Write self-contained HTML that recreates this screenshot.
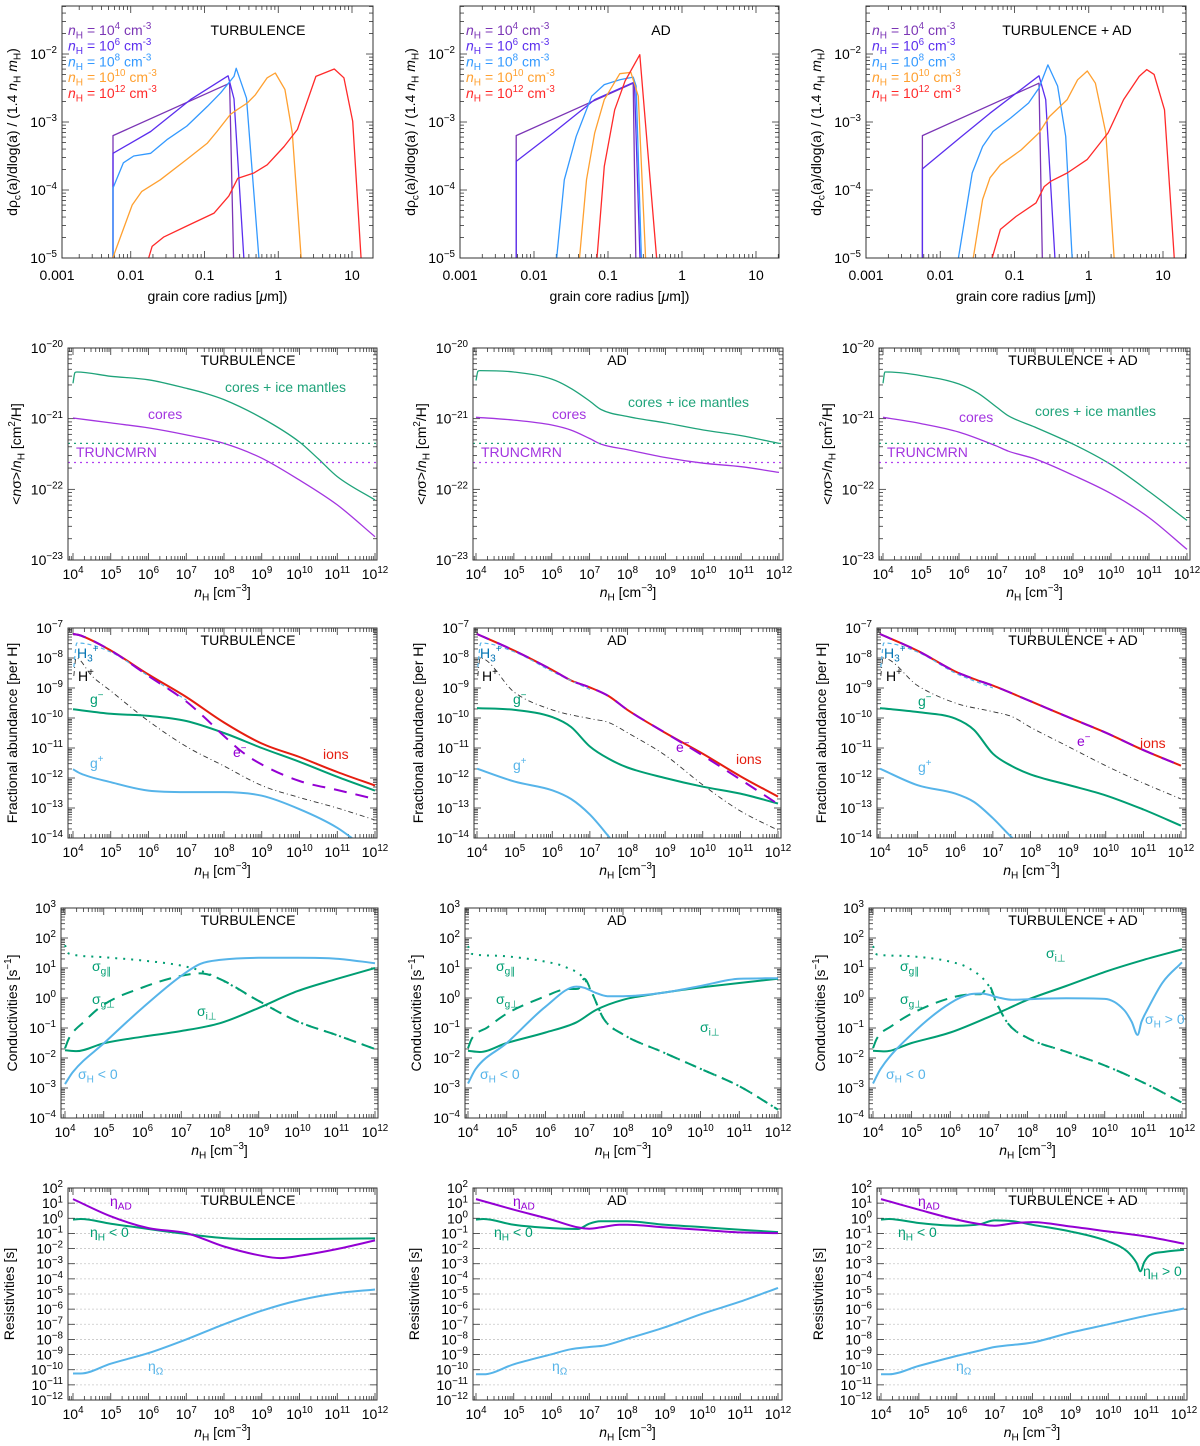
<!DOCTYPE html>
<html><head><meta charset="utf-8">
<style>
html,body{margin:0;padding:0;background:#fff;}
svg{display:block;font-family:"Liberation Sans",Arial,sans-serif;}
</style></head>
<body>
<svg id="fig" width="1200" height="1446" viewBox="0 0 1200 1446"></svg>
<script>
// ---------- Row 1: grain size distributions (log10 a [um], log10 value) ----------
const sdTurb_n4 = [[-2.24,-5.3],[-2.24,-3.20],[-0.66,-2.43],[-0.60,-5.3]];
const sdTurb_n6 = [[-2.24,-5.3],[-2.24,-3.46],[-1.73,-3.14],[-1.19,-2.67],[-0.68,-2.32],[-0.60,-2.66],[-0.45,-5.3]];
const sdTurb_n8 = [[-2.24,-5.3],[-2.24,-3.97],[-2.10,-3.60],[-1.96,-3.50],[-1.73,-3.46],[-1.51,-3.26],[-1.24,-3.06],[-0.96,-2.77],[-0.78,-2.57],[-0.60,-2.33],[-0.57,-2.21],[-0.43,-2.65],[-0.24,-5.3]];
const sdTurb_n10 = [[-2.24,-5.3],[-2.24,-4.99],[-1.98,-4.22],[-1.85,-4.02],[-1.60,-3.85],[-1.24,-3.55],[-0.96,-3.31],[-0.83,-3.14],[-0.65,-2.89],[-0.56,-2.82],[-0.42,-2.72],[-0.31,-2.60],[-0.15,-2.35],[-0.04,-2.28],[0.09,-2.52],[0.19,-3.16],[0.33,-5.3]];
const sdTurb_n12 = [[-1.84,-5.3],[-1.71,-4.83],[-1.55,-4.69],[-1.24,-4.53],[-0.87,-4.34],[-0.67,-4.09],[-0.55,-3.83],[-0.33,-3.75],[-0.15,-3.63],[0.08,-3.36],[0.26,-3.11],[0.51,-2.33],[0.76,-2.22],[0.89,-2.35],[1.01,-2.99],[1.14,-5.3]];
const sdAD_n4 = [[-2.24,-5.3],[-2.24,-3.20],[-0.66,-2.43],[-0.62,-5.3]];
const sdAD_n6 = [[-2.24,-5.3],[-2.24,-3.58],[-1.74,-3.16],[-1.18,-2.67],[-0.66,-2.42],[-0.64,-2.5],[-0.56,-5.3]];
const sdAD_n8 = [[-1.72,-5.3],[-1.59,-3.85],[-1.43,-3.21],[-1.22,-2.62],[-1.05,-2.45],[-0.84,-2.38],[-0.66,-2.34],[-0.62,-2.47],[-0.54,-5.3]];
const sdAD_n10 = [[-1.41,-5.3],[-1.29,-3.85],[-1.18,-3.16],[-1.05,-2.67],[-0.84,-2.29],[-0.69,-2.27],[-0.59,-2.62],[-0.48,-5.3]];
const sdAD_n12 = [[-1.17,-5.3],[-1.05,-3.65],[-0.91,-2.82],[-0.77,-2.40],[-0.57,-2.01],[-0.32,-5.3]];
const sdTA_n4 = [[-2.24,-5.3],[-2.24,-3.20],[-0.67,-2.43],[-0.62,-5.3]];
const sdTA_n6 = [[-2.24,-5.3],[-2.24,-3.69],[-1.71,-3.21],[-1.33,-2.87],[-0.67,-2.32],[-0.58,-2.67],[-0.44,-5.3]];
const sdTA_n8 = [[-1.80,-5.3],[-1.57,-3.75],[-1.43,-3.36],[-1.29,-3.14],[-1.05,-2.94],[-0.81,-2.72],[-0.67,-2.50],[-0.55,-2.16],[-0.42,-2.47],[-0.31,-3.21],[-0.21,-5.3]];
const sdTA_n10 = [[-1.60,-5.3],[-1.43,-4.14],[-1.33,-3.82],[-1.19,-3.63],[-0.91,-3.41],[-0.67,-3.16],[-0.53,-2.92],[-0.29,-2.67],[-0.15,-2.38],[-0.02,-2.25],[0.09,-2.43],[0.23,-3.16],[0.36,-5.3]];
const sdTA_n12 = [[-1.38,-5.3],[-1.19,-4.58],[-0.98,-4.39],[-0.71,-4.19],[-0.60,-3.95],[-0.51,-3.87],[-0.29,-3.75],[-0.02,-3.55],[0.26,-3.16],[0.47,-2.67],[0.68,-2.33],[0.78,-2.23],[0.88,-2.30],[1.02,-2.82],[1.17,-5.3]];
const sdLegend = ["4","6","8","10","12"];

// ---------- Row 2: mean cross sections ----------
const csTurbIce = [[4.0,-20.50],[4.05,-20.35],[4.1,-20.34],[5,-20.40],[6,-20.45],[7,-20.57],[7.5,-20.64],[8,-20.73],[9,-20.99],[10,-21.33],[10.5,-21.57],[11,-21.82],[12,-22.15]];
const csTurbCore = [[4,-20.99],[5,-21.06],[6,-21.13],[7,-21.23],[8,-21.35],[9,-21.56],[10,-21.87],[11,-22.22],[12,-22.67]];
const csADIce = [[4.0,-20.46],[4.05,-20.33],[4.1,-20.32],[5,-20.34],[6,-20.44],[6.5,-20.57],[7,-20.75],[7.3,-20.87],[8,-20.97],[9,-21.06],[10,-21.16],[11,-21.24],[12,-21.35]];
const csADCore = [[4,-20.98],[5,-21.02],[6,-21.09],[6.5,-21.16],[7,-21.28],[7.3,-21.36],[8,-21.44],[9,-21.55],[10,-21.63],[11,-21.68],[12,-21.76]];
const csTAIce = [[4.0,-20.50],[4.05,-20.34],[4.1,-20.34],[5,-20.39],[6,-20.51],[6.5,-20.64],[7,-20.84],[7.3,-20.96],[8,-21.12],[9,-21.36],[10,-21.65],[11,-22.03],[12,-22.44]];
const csTACore = [[4,-20.98],[5,-21.07],[6,-21.19],[7,-21.39],[7.3,-21.46],[8,-21.57],[9,-21.80],[10,-22.06],[11,-22.40],[12,-22.85]];
const csTruncIce = -21.35;
const csTruncCore = -21.62;

// ---------- Row 3: fractional abundances ----------
const abTurbIons = [[4,-7.2],[4.2,-7.25],[5,-7.75],[6,-8.55],[7,-9.3],[8,-10.15],[9,-10.85],[10,-11.3],[11,-11.8],[12,-12.25]];
const abTurbE = [[4,-7.2],[4.2,-7.25],[5,-7.75],[6,-8.6],[7,-9.45],[7.5,-10.0],[8,-10.6],[8.5,-11.15],[9,-11.55],[10,-12.1],[11,-12.4],[12,-12.7]];
const abTurbH3 = [[4.02,-8.3],[4.1,-7.5],[5,-7.8],[6,-8.6],[7,-9.4]];
const abTurbHp = [[4.02,-8.6],[4.08,-8.0],[4.5,-8.6],[5,-9.1],[6,-10.1],[7,-10.95],[8,-11.6],[9,-12.25],[10,-12.65],[11,-13.0],[12,-13.4]];
const abTurbGm = [[4,-9.71],[5,-9.86],[6,-9.93],[7,-10.1],[8,-10.5],[9,-11.0],[10,-11.46],[11,-11.96],[12,-12.42]];
const abTurbGp = [[4,-11.71],[4.2,-11.85],[5,-12.14],[6,-12.42],[7,-12.47],[8,-12.47],[9,-12.59],[10,-13.04],[11,-13.66],[11.6,-14.2]];
const abADIons = [[4,-7.2],[5,-7.76],[6,-8.4],[6.5,-8.75],[7,-8.98],[7.5,-9.27],[8,-9.73],[9,-10.49],[10,-11.19],[11,-11.94],[12,-12.62]];
const abADE = [[4,-7.2],[5,-7.76],[6,-8.4],[6.5,-8.75],[7,-8.98],[7.5,-9.27],[8,-9.73],[9,-10.49],[10,-11.25],[11,-12.05],[12,-12.87]];
const abADH3 = [[4.02,-8.3],[4.1,-7.5],[5,-7.8],[6,-8.45],[7,-9.05]];
const abADHp = [[4.02,-8.6],[4.08,-8.0],[5,-9.15],[6,-9.73],[7,-10.02],[7.5,-10.15],[8,-10.49],[9,-11.24],[10,-12.23],[11,-13.1],[12,-13.74]];
const abADGm = [[4,-9.67],[5,-9.73],[6,-9.97],[6.5,-10.3],[7,-10.95],[7.5,-11.36],[8,-11.65],[9,-12.0],[10,-12.29],[11,-12.52],[12,-12.85]];
const abADGp = [[4,-11.69],[5,-12.12],[6,-12.41],[6.5,-12.7],[7,-13.22],[7.6,-14.1]];
const abTAIons = [[4,-7.2],[5,-7.76],[6,-8.45],[6.5,-8.7],[7,-8.92],[8,-9.44],[9,-9.97],[10,-10.49],[11,-11.07],[12,-11.59]];
const abTAE = [[4,-7.2],[5,-7.76],[6,-8.45],[6.5,-8.7],[7,-8.92],[8,-9.44],[9,-9.97],[10,-10.49],[11,-11.07],[12,-11.59]];
const abTAH3 = [[4.02,-8.3],[4.1,-7.5],[5,-7.8],[6,-8.5],[7,-9.0]];
const abTAHp = [[4.02,-8.6],[4.08,-8.0],[5,-8.92],[6,-9.5],[7,-9.79],[7.5,-9.95],[8,-10.31],[9,-10.95],[10,-11.59],[11,-12.17],[12,-12.7]];
const abTAGm = [[4,-9.67],[5,-9.8],[6,-10.02],[6.5,-10.4],[7,-11.19],[7.5,-11.6],[8,-11.88],[9,-12.23],[10,-12.58],[11,-13.05],[12,-13.59]];
const abTAGp = [[4,-11.69],[5,-12.24],[6,-12.52],[6.5,-12.8],[7,-13.34],[7.5,-13.98],[7.6,-14.1]];

// ---------- Row 4: conductivities ----------
const cdTurbGpar = [[4,1.76],[4.1,1.48],[5,1.36],[6,1.25],[7,1.08],[7.5,0.91],[8,0.63],[9,-0.1],[10,-0.78],[11,-1.23],[12,-1.7]];
const cdTurbGperp = [[4,-1.68],[4.1,-1.35],[4.5,-0.78],[5,-0.22],[6,0.35],[7,0.74],[7.5,0.82],[8,0.63],[9,-0.1],[10,-0.78],[11,-1.23],[12,-1.7]];
const cdTurbIperp = [[4,-1.74],[4.3,-1.77],[5,-1.51],[6,-1.29],[7,-1.1],[8,-0.84],[9,-0.33],[10,0.23],[11,0.63],[12,1.0]];
const cdTurbH = [[4,-2.87],[4.2,-2.47],[5,-1.51],[6,-0.33],[7,0.74],[7.5,1.14],[8,1.27],[9,1.34],[10,1.34],[11,1.31],[12,1.16]];
const cdADGpar = [[4,1.73],[4.1,1.47],[5,1.39],[6,1.21],[6.5,1.04],[7,0.64],[7.2,0.17],[7.5,-0.69],[8,-1.21],[9,-1.79],[10,-2.36],[11,-2.94],[12,-3.72]];
const cdADGperp = [[4,-1.67],[4.1,-1.35],[4.5,-0.98],[5,-0.52],[6,0.06],[6.5,0.29],[6.85,0.31],[7,0.64],[7.2,0.17],[7.5,-0.69],[8,-1.21],[9,-1.79],[10,-2.36],[11,-2.94],[12,-3.72]];
const cdADIperp = [[4,-1.76],[4.3,-1.8],[5,-1.5],[6,-1.15],[6.8,-0.81],[7.3,-0.4],[8,-0.06],[9,0.17],[10,0.35],[11,0.5],[12,0.64]];
const cdADH = [[4,-2.85],[4.2,-2.36],[5,-1.5],[6,-0.29],[6.8,0.38],[7.0,0.34],[7.3,0.17],[7.6,0.06],[8,0.06],[9,0.17],[10,0.4],[11,0.64],[12,0.66]];
const cdTAGpar = [[4,1.73],[4.1,1.45],[5,1.39],[6,1.21],[6.5,0.98],[7,0.4],[7.2,-0.17],[7.5,-0.86],[8,-1.33],[9,-1.79],[10,-2.25],[11,-2.82],[12,-3.49]];
const cdTAGperp = [[4,-1.67],[4.1,-1.35],[4.5,-0.92],[5,-0.52],[6,0.0],[6.5,0.12],[6.8,0.13],[7,0.4],[7.2,-0.17],[7.5,-0.86],[8,-1.33],[9,-1.79],[10,-2.25],[11,-2.82],[12,-3.49]];
const cdTAIperp = [[4,-1.76],[4.3,-1.78],[5,-1.5],[6,-1.15],[7,-0.63],[7.5,-0.35],[8,-0.06],[9,0.4],[10,0.87],[11,1.27],[12,1.62]];
const cdTAH = [[4,-2.85],[4.2,-2.36],[5,-1.21],[6,-0.17],[6.5,0.12],[6.8,0.15],[7.3,0.0],[7.6,-0.06],[8,-0.04],[9,-0.01],[10,-0.03],[10.5,-0.4],[10.7,-0.8],[10.85,-1.23],[10.95,-0.8],[11.1,-0.4],[11.5,0.52],[12,1.19]];

// ---------- Row 5: resistivities ----------
const rsTurbAD = [[4,1.27],[5,0.13],[6,-0.65],[7,-0.98],[8,-1.86],[9,-2.48],[9.5,-2.63],[10,-2.48],[11,-2.03],[12,-1.46]];
const rsTurbH = [[4,-0.09],[4.2,-0.05],[5,-0.36],[6,-0.71],[7,-1.04],[8,-1.31],[9,-1.37],[10,-1.37],[11,-1.35],[12,-1.33]];
const rsTurbO = [[4,-10.25],[4.2,-10.25],[5,-9.6],[6,-8.9],[7,-8.0],[8,-7.0],[9,-6.1],[10,-5.4],[11,-4.95],[12,-4.7]];
const rsADAD = [[4,1.27],[5,0.57],[6,-0.09],[6.7,-0.6],[7,-0.69],[7.3,-0.6],[7.8,-0.43],[8,-0.43],[9,-0.6],[10,-0.77],[11,-0.93],[12,-0.98]];
const rsADH = [[4,-0.09],[4.2,-0.05],[5,-0.43],[6,-0.65],[6.7,-0.71],[7,-0.36],[7.3,-0.2],[8,-0.2],[9,-0.43],[10,-0.58],[11,-0.76],[12,-0.91]];
const rsADO = [[4,-10.3],[4.2,-10.3],[5,-9.64],[6,-8.98],[6.5,-8.65],[7,-8.5],[7.4,-8.4],[8,-7.96],[9,-7.2],[10,-6.3],[11,-5.5],[12,-4.6]];
const rsTAAD = [[4,1.27],[5,0.57],[6,-0.09],[6.7,-0.42],[7,-0.49],[7.5,-0.33],[8,-0.25],[9,-0.54],[10,-0.87],[11,-1.2],[12,-1.68]];
const rsTAH = [[4,-0.09],[4.2,-0.05],[5,-0.31],[6,-0.49],[6.6,-0.4],[7,-0.14],[7.5,-0.2],[8,-0.43],[9,-0.87],[10,-1.53],[10.5,-2.19],[10.75,-2.96],[10.85,-3.5],[10.95,-2.9],[11.1,-2.43],[11.5,-2.21],[12,-2.08]];
const rsTAO = [[4,-10.3],[4.2,-10.3],[5,-9.75],[6,-9.09],[6.5,-8.8],[7,-8.5],[8,-8.2],[9,-7.55],[10,-7.0],[11,-6.44],[12,-5.96]];

const xTickLabels = ["4","5","6","7","8","9","10","11","12"];
const r1TickLabels = ["0.001","0.01","0.1","1","10"];

// ---------- drawing ----------
const svg = document.getElementById('fig');
const SVGNS = svg.namespaceURI;
function mk(tag, attrs, parent){ const e=document.createElementNS(SVGNS,tag); for(const k in attrs) e.setAttribute(k,attrs[k]); (parent||svg).appendChild(e); return e; }
function rich(parent, x, y, parts, size, color, anchor, rot){
  const t = mk('text',{x:x,y:y,'font-size':size,fill:color||'#000','text-anchor':anchor||'start'},parent);
  if(rot) t.setAttribute('transform','rotate(-90 '+x+' '+y+')');
  let shift=0;
  parts.forEach(p=>{
    const s=mk('tspan',{},t);
    let target=0;
    if(p[1]==='sup'){target=-size*0.42; s.setAttribute('font-size',size*0.7);}
    else if(p[1]==='sub'){target=size*0.25; s.setAttribute('font-size',size*0.72);}
    else if(p[1]==='it'){s.setAttribute('font-style','italic');}
    s.setAttribute('dy',target-shift); shift=target;
    s.textContent=p[0];
  });
  return t;
}
function monoPath(pts){
  const n=pts.length;
  let d='M'+pts[0][0].toFixed(1)+','+pts[0][1].toFixed(1);
  if(n<3){ for(let i=1;i<n;i++) d+=' L'+pts[i][0].toFixed(1)+','+pts[i][1].toFixed(1); return d; }
  const m=[], t=[];
  for(let i=0;i<n-1;i++){ const dx=pts[i+1][0]-pts[i][0]; m.push(dx===0?0:(pts[i+1][1]-pts[i][1])/dx); }
  t[0]=m[0]; t[n-1]=m[n-2];
  for(let i=1;i<n-1;i++){
    if(m[i-1]*m[i]<=0) t[i]=0;
    else { const a=(m[i-1]+m[i])/2; const lim=3*Math.min(Math.abs(m[i-1]),Math.abs(m[i])); t[i]=Math.sign(a)*Math.min(Math.abs(a),lim); }
  }
  for(let i=0;i<n-1;i++){
    const dx=(pts[i+1][0]-pts[i][0])/3;
    d+=' C'+(pts[i][0]+dx).toFixed(1)+','+(pts[i][1]+t[i]*dx).toFixed(1)+' '+(pts[i+1][0]-dx).toFixed(1)+','+(pts[i+1][1]-t[i+1]*dx).toFixed(1)+' '+pts[i+1][0].toFixed(1)+','+pts[i+1][1].toFixed(1);
  }
  return d;
}
let clipN=0;
function panel(c){
  const g=mk('g',{});
  
  
  const sx=v=>c.px0+(v-c.lx0)*(c.px1-c.px0)/(c.lx1-c.lx0);
  const sy=v=>c.B-(v-c.ylo)*(c.B-c.T)/(c.yhi-c.ylo);
  if(c.grid){
    for(let d=Math.ceil(c.ylo)+1; d<c.yhi; d++){
      const gl=mk('line',{x1:c.L,x2:c.R,y1:sy(d),y2:sy(d),stroke:'#c8c8c8','stroke-width':0.8,'stroke-dasharray':'2,2'},g);
      
      
    }
  }
  const tk=mk('g',{stroke:'#333','stroke-width':0.8},g);
  
  
  const xlo=c.lx0+(c.L-c.px0)*(c.lx1-c.lx0)/(c.px1-c.px0), xhi=c.lx0+(c.R-c.px0)*(c.lx1-c.lx0)/(c.px1-c.px0);
  for(let d=Math.floor(xlo); d<=xhi; d++){
    for(let m=1;m<10;m++){
      const v=d+Math.log10(m); if(v<xlo-0.001||v>xhi+0.001) continue;
      const X=sx(v), len=m===1?7:4;
      mk('line',{x1:X,x2:X,y1:c.B,y2:c.B-len},tk); mk('line',{x1:X,x2:X,y1:c.T,y2:c.T+len},tk);
    }
  }
  for(let d=Math.floor(c.ylo); d<=c.yhi; d++){
    for(let m=1;m<10;m++){
      if(c.noYMinor && m>1) continue;
      const v=d+Math.log10(m); if(v<c.ylo-0.001||v>c.yhi+0.001) continue;
      const Y=sy(v), len=m===1?7:4;
      mk('line',{x1:c.L,x2:c.L+len,y1:Y,y2:Y},tk); mk('line',{x1:c.R,x2:c.R-len,y1:Y,y2:Y},tk);
    }
  }
  const id='clip'+(clipN++);
  const cp=mk('clipPath',{id:id},g); mk('rect',{x:c.L,y:c.T,width:c.R-c.L,height:c.B-c.T},cp);
  const sg=mk('g',{'clip-path':'url(#'+id+')'},g);
  c.series.forEach(s=>{
    const pts=s.data.map(p=>[sx(p[0]),sy(p[1])]);
    const d=s.poly? 'M'+pts.map(p=>p[0].toFixed(1)+','+p[1].toFixed(1)).join(' L') : monoPath(pts);
    const p=mk('path',{d:d,fill:'none',stroke:s.color,'stroke-width':s.w||2,'stroke-linejoin':'round'},sg);
    if(s.dash) p.setAttribute('stroke-dasharray',s.dash);
    
    
  });
  (c.hlines||[]).forEach(h=>{
    const l=mk('line',{x1:c.L,x2:c.R,y1:sy(h.v),y2:sy(h.v),stroke:h.color,'stroke-width':1.3,'stroke-dasharray':'2,4'},sg);
    
    
  });
  const fr=mk('rect',{x:c.L,y:c.T,width:c.R-c.L,height:c.B-c.T,fill:'none',stroke:'#333','stroke-width':1},g);
  
  
  c.xlabels.forEach((lab,i)=>{
    const v=c.xlabVals[i];
    let t;
    if(c.r1) t=rich(g,sx(v),c.B+22,[[lab,'']],14,'#000','middle');
    else t=rich(g,sx(v),c.B+19,[['10',''],[lab,'sup']],14,'#000','middle');
    
    
  });
  for(let d=Math.ceil(c.ylo-0.001); d<=Math.floor(c.yhi+0.001); d++){
    const t=rich(g,c.L-5,sy(d)+5,[['10',''],[String(d).replace('-','\u2212'),'sup']],14,'#000','end');
    
    
  }
  const tt=rich(g,c.titleX,c.T+(c.r1?29:17),[[c.title,'']],14,'#000','middle');
  
  
  const yt=rich(g,c.ytX,(c.T+c.B)/2,c.ytitle,14,'#000','middle',true);
  
  
  const xt=rich(g,(c.L+c.R)/2,c.B+(c.r1?43:37),c.xtitle,14,'#000','middle');
  
  
  (c.labels||[]).forEach(l=>{
    const t=rich(g,l.x,l.y,l.parts,l.size||14,l.color,'start');
    
    
  });
}

const titles=['TURBULENCE','AD','TURBULENCE + AD'];
const nHtitle=[['n','it'],['H','sub'],[' [cm',''],['\u22123','sup'],[']','']];
const xv=[4,5,6,7,8,9,10,11,12];
const C1=['#7B35B5','#5B2EEE','#3399FF','#FFA030','#FF2A2A'];

// Row 1
const r1cols=[{L:62,R:373,px0:57,px1:352},{L:460,R:779,px0:460,px1:756},{L:866,R:1186,px0:866,px1:1163}];
const r1data=[[sdTurb_n4,sdTurb_n6,sdTurb_n8,sdTurb_n10,sdTurb_n12],[sdAD_n4,sdAD_n6,sdAD_n8,sdAD_n10,sdAD_n12],[sdTA_n4,sdTA_n6,sdTA_n8,sdTA_n10,sdTA_n12]];
r1cols.forEach((cc,i)=>{
  const labels=sdLegend.map((e,k)=>({x:cc.L+6,y:35+k*15.7,color:C1[k],size:14,name:'legend-entry',
    parts:[['n','it'],['H','sub'],[' = 10',''],[e,'sup'],[' cm',''],['-3','sup']]}));
  panel({name:'size-distribution-'+['turbulence','ad','turbulence-ad'][i],r1:true,L:cc.L,R:cc.R,T:6,B:258,px0:cc.px0,px1:cc.px1,lx0:-3,lx1:1,ylo:-5,yhi:-1.294,
    series:r1data[i].map((d,k)=>({data:d,color:C1[k],w:1.3,poly:true,name:'size-curve-1e'+sdLegend[k]})),
    xlabels:r1TickLabels,xlabVals:[-3,-2,-1,0,1],title:titles[i],titleX:[258,661,1067][i],
    ytX:cc.L-45,ytitle:[['d\u03C1',''],['c','sub'],['(a)/dlog(a) / (1.4 ',''],['n','it'],['H','sub'],[' ',''],['m','it'],['H','sub'],[')','']],
    xtitle:[['grain core radius [',''],['\u03BC','it'],['m])','']],labels:labels});
});

const G='#009E73', P='#9400D3', LB='#56B4E9', RD='#E51E10', DB='#0072B2';
// Row 2
const r2cols=[{L:68,R:377,px0:73,px1:375},{L:473,R:783,px0:476,px1:779},{L:879,R:1190,px0:883,px1:1187}];
const r2data=[[csTurbIce,csTurbCore],[csADIce,csADCore],[csTAIce,csTACore]];
const r2lab=[[[225,392],[148,419]],[[628,407],[552,419]],[[1035,416],[959,422]]];
r2cols.forEach((cc,i)=>{
  panel({name:'cross-section-'+['turbulence','ad','turbulence-ad'][i],L:cc.L,R:cc.R,T:348,B:560,px0:cc.px0,px1:cc.px1,lx0:4,lx1:12,ylo:-23,yhi:-20,
    series:[{data:r2data[i][0],color:'#1FA37A',w:1.3,name:'cores-ice-curve'},{data:r2data[i][1],color:'#A335E0',w:1.3,name:'cores-curve'}],
    hlines:[{v:csTruncIce,color:'#1FA37A',name:'truncmrn-ice-line'},{v:csTruncCore,color:'#B040F0',name:'truncmrn-core-line'}],
    xlabels:xTickLabels,xlabVals:xv,title:titles[i],titleX:[248,617,1073][i],ytX:cc.L-47,
    ytitle:[['<',''],['n','it'],['\u03C3>/',''],['n','it'],['H','sub'],[' [cm',''],['2','sup'],['/H]','']],xtitle:nHtitle,
    labels:[{x:r2lab[i][0][0],y:r2lab[i][0][1],color:'#1FA37A',name:'cores-ice-label',parts:[['cores + ice mantles','']]},
            {x:r2lab[i][1][0],y:r2lab[i][1][1],color:'#A335E0',name:'cores-label',parts:[['cores','']]},
            {x:cc.L+8,y:457,color:'#A335E0',name:'truncmrn-label',parts:[['TRUNCMRN','']]}]});
});

// Row 3
const r3cols=[{L:68,R:377,px0:73,px1:375},{L:474,R:781,px0:477,px1:778},{L:877,R:1186,px0:880,px1:1181}];
const r3data=[[abTurbIons,abTurbE,abTurbH3,abTurbHp,abTurbGm,abTurbGp],[abADIons,abADE,abADH3,abADHp,abADGm,abADGp],[abTAIons,abTAE,abTAH3,abTAHp,abTAGm,abTAGp]];
const r3lab=[[[77,658],[78,681],[90,704],[90,768],[233,757],[323,759]],[[480,658],[482,681],[513,704],[513,770],[676,752],[736,764]],[[884,658],[886,681],[918,706],[918,772],[1077,746],[1140,748]]];
r3cols.forEach((cc,i)=>{
  const d=r3data[i], L=r3lab[i];
  panel({name:'abundance-'+['turbulence','ad','turbulence-ad'][i],L:cc.L,R:cc.R,T:628,B:838,px0:cc.px0,px1:cc.px1,lx0:4,lx1:12,ylo:-14,yhi:-7,
    series:[{data:d[3],color:'#333',w:0.9,dash:'5,3,1,3',name:'h-plus-curve'},
            {data:d[5],color:LB,w:2,name:'g-plus-curve'},
            {data:d[4],color:G,w:2,name:'g-minus-curve'},
            {data:d[0],color:RD,w:2,name:'ions-curve'},
            {data:d[2],color:LB,w:1.2,dash:'4,3',name:'h3-plus-curve'},
            {data:d[1],color:P,w:2,dash:'13,9',name:'electrons-curve'}],
    xlabels:xTickLabels,xlabVals:xv,title:titles[i],titleX:[248,617,1073][i],ytX:cc.L-51,
    ytitle:[['Fractional abundance [per H]','']],xtitle:nHtitle,
    labels:[{x:L[0][0],y:L[0][1],color:DB,name:'h3-plus-label',parts:[['H',''],['3','sub'],['+','sup']]},
            {x:L[1][0],y:L[1][1],color:'#000',name:'h-plus-label',parts:[['H',''],['+','sup']]},
            {x:L[2][0],y:L[2][1],color:G,name:'g-minus-label',parts:[['g',''],['\u2212','sup']]},
            {x:L[3][0],y:L[3][1],color:LB,name:'g-plus-label',parts:[['g',''],['+','sup']]},
            {x:L[4][0],y:L[4][1],color:P,name:'electrons-label',parts:[['e',''],['\u2212','sup']]},
            {x:L[5][0],y:L[5][1],color:RD,name:'ions-label',parts:[['ions','']]}]});
});

// Row 4
const r4cols=[{L:61,R:378,px0:65,px1:375},{L:465,R:781,px0:468,px1:778},{L:869,R:1186,px0:873,px1:1182}];
const r4data=[[cdTurbGpar,cdTurbGperp,cdTurbIperp,cdTurbH],[cdADGpar,cdADGperp,cdADIperp,cdADH],[cdTAGpar,cdTAGperp,cdTAIperp,cdTAH]];
const r4lab=[[[92,971],[92,1004],[197,1016],[78,1079]],[[496,971],[496,1004],[700,1032],[480,1079]],[[900,971],[900,1004],[1046,958],[886,1079]]];
r4cols.forEach((cc,i)=>{
  const d=r4data[i], L=r4lab[i];
  const labels=[{x:L[0][0],y:L[0][1],color:G,name:'sigma-g-par-label',parts:[['\u03C3',''],['g\u2225','sub']]},
            {x:L[1][0],y:L[1][1],color:G,name:'sigma-g-perp-label',parts:[['\u03C3',''],['g\u22A5','sub']]},
            {x:L[2][0],y:L[2][1],color:G,name:'sigma-i-perp-label',parts:[['\u03C3',''],['i\u22A5','sub']]},
            {x:L[3][0],y:L[3][1],color:LB,name:'sigma-hall-label',parts:[['\u03C3',''],['H','sub'],[' < 0','']]}];
  if(i===2) labels.push({x:1145,y:1024,color:LB,name:'sigma-hall-positive-label',parts:[['\u03C3',''],['H','sub'],[' > 0','']]});
  panel({name:'conductivity-'+['turbulence','ad','turbulence-ad'][i],L:cc.L,R:cc.R,T:908,B:1118,px0:cc.px0,px1:cc.px1,lx0:4,lx1:12,ylo:-4,yhi:3,
    series:[{data:d[0],color:G,w:2,dash:'2,6',name:'sigma-g-par-curve'},
            {data:d[1],color:G,w:2,dash:'12,8',name:'sigma-g-perp-curve'},
            {data:d[2],color:G,w:2,name:'sigma-i-perp-curve'},
            {data:d[3],color:LB,w:2,name:'sigma-hall-curve'}],
    xlabels:xTickLabels,xlabVals:xv,title:titles[i],titleX:[248,617,1073][i],ytX:cc.L-44,
    ytitle:[['Conductivities [s',''],['\u22121','sup'],[']','']],xtitle:nHtitle,labels:labels});
});

// Row 5
const r5cols=[{L:68,R:377,px0:73,px1:375},{L:473,R:782,px0:476,px1:778},{L:877,R:1187,px0:881,px1:1184}];
const r5data=[[rsTurbAD,rsTurbH,rsTurbO],[rsADAD,rsADH,rsADO],[rsTAAD,rsTAH,rsTAO]];
const r5lab=[[[110,1206],[90,1237],[148,1371]],[[513,1206],[494,1237],[552,1371]],[[918,1206],[898,1237],[956,1371]]];
r5cols.forEach((cc,i)=>{
  const d=r5data[i], L=r5lab[i];
  const labels=[{x:L[0][0],y:L[0][1],color:P,name:'eta-ad-label',parts:[['\u03B7',''],['AD','sub']]},
            {x:L[1][0],y:L[1][1],color:G,name:'eta-hall-label',parts:[['\u03B7',''],['H','sub'],[' < 0','']]},
            {x:L[2][0],y:L[2][1],color:LB,name:'eta-ohm-label',parts:[['\u03B7',''],['\u03A9','sub']]}];
  if(i===2) labels.push({x:1143,y:1276,color:G,name:'eta-hall-positive-label',parts:[['\u03B7',''],['H','sub'],[' > 0','']]});
  panel({name:'resistivity-'+['turbulence','ad','turbulence-ad'][i],grid:true,noYMinor:true,L:cc.L,R:cc.R,T:1188,B:1400,px0:cc.px0,px1:cc.px1,lx0:4,lx1:12,ylo:-12,yhi:2,
    series:[{data:d[2],color:LB,w:2,name:'eta-ohm-curve'},
            {data:d[1],color:G,w:2,name:'eta-hall-curve'},
            {data:d[0],color:P,w:2,name:'eta-ad-curve'}],
    xlabels:xTickLabels,xlabVals:xv,title:titles[i],titleX:[248,617,1073][i],ytX:cc.L-54,
    ytitle:[['Resistivities [s]','']],xtitle:nHtitle,labels:labels});
});
</script>
</body></html>
